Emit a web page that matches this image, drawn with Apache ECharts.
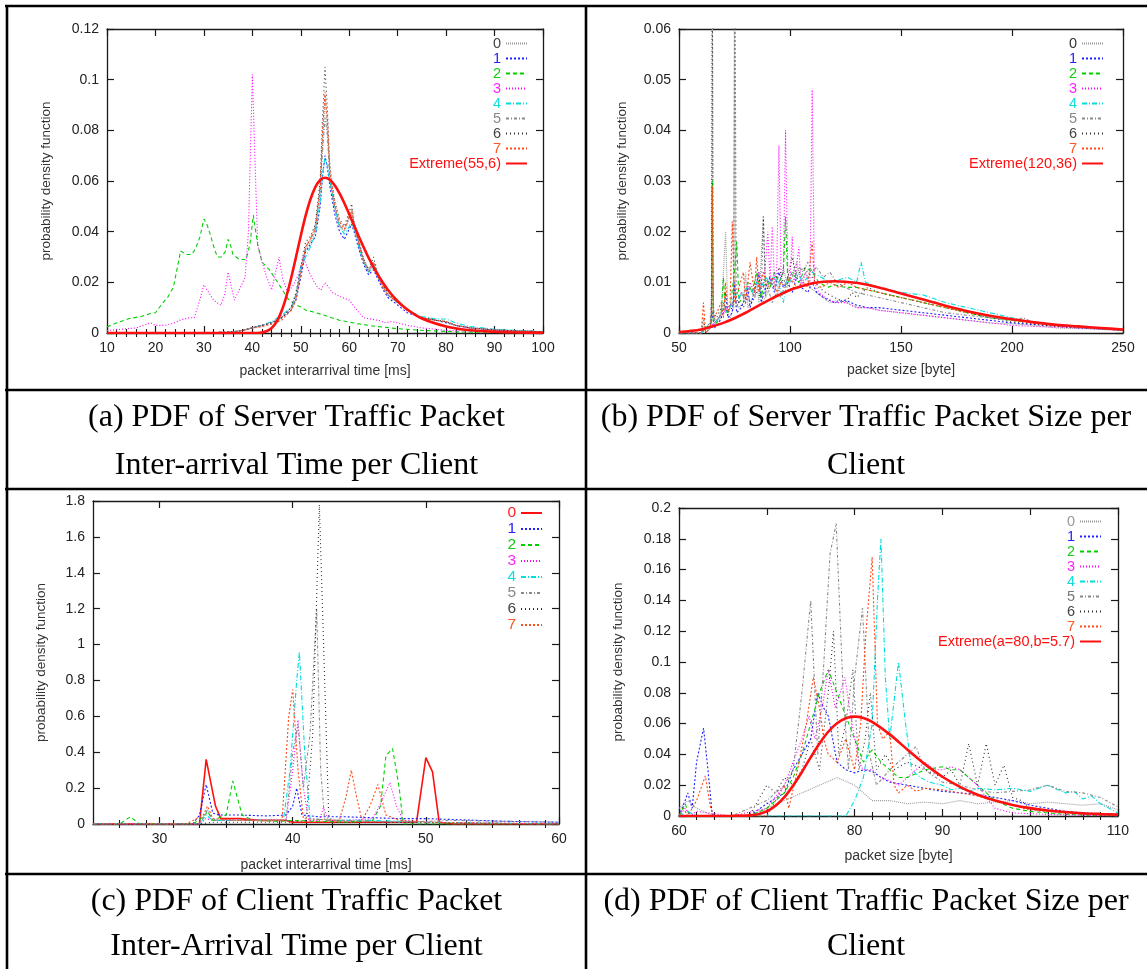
<!DOCTYPE html>
<html><head><meta charset="utf-8">
<script src="https://cdn.jsdelivr.net/npm/echarts@6/dist/echarts.min.js"></script>
<style>html,body{margin:0;padding:0;background:#fff}#c{width:1147px;height:969px}</style>
</head><body><div id="c"></div>
<script>
// ---------------- DATA ----------------
// (a) server inter-arrival time [ms]
const xA = [10,20,30,36,38,40,42,44,46,48,49,50,51,52,53,54,54.5,55,55.5,56,57,58,59,60,60.5,61,62,63,64,65,66,67,68,70,72,75,78,80,82,85,90,95,100];
const a0 = [0,0,0,0.0005,0.001,0.002,0.003,0.004,0.006,0.009,0.014,0.024,0.033,0.036,0.040,0.055,0.075,0.093,0.080,0.062,0.050,0.043,0.040,0.045,0.047,0.042,0.035,0.028,0.024,0.027,0.022,0.018,0.015,0.012,0.009,0.006,0.005,0.0045,0.003,0.002,0.0012,0.0008,0.0005];
const a1 = [0,0,0,0.0004,0.001,0.002,0.003,0.004,0.006,0.009,0.013,0.022,0.032,0.035,0.038,0.050,0.062,0.070,0.065,0.058,0.047,0.040,0.037,0.041,0.043,0.040,0.033,0.027,0.023,0.025,0.021,0.017,0.014,0.011,0.008,0.006,0.005,0.004,0.003,0.002,0.0012,0.0008,0.0005];
const a4 = [0,0,0,0.0005,0.001,0.002,0.003,0.0045,0.007,0.010,0.015,0.026,0.030,0.034,0.039,0.052,0.063,0.069,0.066,0.060,0.050,0.042,0.039,0.042,0.044,0.041,0.034,0.028,0.024,0.026,0.022,0.018,0.015,0.012,0.009,0.0065,0.0055,0.0055,0.004,0.0025,0.0015,0.001,0.0006];
const a5 = [0,0,0,0.0005,0.001,0.002,0.003,0.004,0.006,0.010,0.015,0.025,0.034,0.037,0.042,0.058,0.072,0.085,0.078,0.060,0.049,0.042,0.041,0.046,0.048,0.043,0.036,0.029,0.025,0.028,0.023,0.019,0.015,0.012,0.009,0.006,0.005,0.0045,0.003,0.002,0.0012,0.0008,0.0005];
const a6 = [0,0,0,0.0005,0.001,0.002,0.003,0.004,0.006,0.010,0.016,0.026,0.036,0.038,0.043,0.060,0.085,0.105,0.088,0.066,0.052,0.045,0.042,0.048,0.051,0.044,0.036,0.029,0.025,0.030,0.023,0.019,0.016,0.012,0.009,0.006,0.005,0.0045,0.003,0.002,0.0012,0.0008,0.0005];
const a7 = [0,0,0,0.0004,0.001,0.002,0.0025,0.0035,0.005,0.009,0.013,0.023,0.034,0.037,0.041,0.057,0.080,0.095,0.084,0.064,0.051,0.044,0.041,0.046,0.049,0.043,0.035,0.028,0.024,0.028,0.022,0.018,0.015,0.012,0.009,0.006,0.005,0.0045,0.003,0.002,0.0012,0.0008,0.0005];
const a2 = [[10,0.0024],[12,0.004],[14.6,0.0057],[17,0.0065],[19,0.0077],[20,0.008],[21.4,0.0116],[22.5,0.014],[23.7,0.018],[25.2,0.0324],[26.3,0.031],[27.5,0.031],[28.3,0.0334],[29.2,0.038],[30,0.045],[30.6,0.043],[31.3,0.039],[32.2,0.033],[32.8,0.030],[33.6,0.030],[34.4,0.032],[35,0.037],[35.6,0.034],[36,0.031],[37.3,0.029],[38.7,0.029],[39.5,0.035],[40.2,0.0465],[40.7,0.040],[41.1,0.035],[42,0.028],[43.5,0.025],[45.4,0.0195],[47.3,0.0136],[48.8,0.0113],[50,0.0103],[51.1,0.009],[52.6,0.0083],[54.9,0.007],[58,0.005],[61.7,0.0037],[65.5,0.0026],[70,0.0017],[75.3,0.001],[83,0.0004],[90,0.0002],[100,0]];
const a3 = [[10,0.001],[13,0.0015],[16,0.002],[19,0.004],[20,0.003],[22,0.003],[24,0.004],[25,0.005],[26,0.0055],[27,0.006],[28,0.006],[29,0.012],[30,0.019],[31,0.016],[32,0.013],[33.5,0.011],[34.3,0.015],[35,0.024],[35.7,0.018],[36.3,0.013],[37.3,0.017],[38.5,0.022],[39.2,0.04],[40,0.102],[40.6,0.065],[41.1,0.035],[42,0.028],[43,0.022],[44,0.017],[44.8,0.024],[45.5,0.030],[46.3,0.021],[47.3,0.016],[48.5,0.019],[49.5,0.023],[50.5,0.030],[51.5,0.025],[52.5,0.021],[53.5,0.018],[54.2,0.017],[55,0.020],[55.8,0.018],[56.5,0.016],[57.5,0.015],[58.5,0.014],[60,0.013],[60.8,0.011],[62,0.008],[63,0.006],[64.5,0.0055],[66,0.005],[67.5,0.004],[68.5,0.0045],[70,0.004],[72,0.003],[75,0.002],[78,0.0015],[80,0.001],[85,0.0008],[90,0.0005],[100,0]];
const aExt = [[10,0],[38,0],[41,0],[42,0.0002],[43,0.0008],[44,0.002],[45,0.0044],[46,0.0085],[47,0.0143],[48,0.0216],[49,0.0299],[50,0.0384],[51,0.0463],[52,0.0528],[53,0.0576],[54,0.0604],[55,0.0613],[56,0.0605],[57,0.0583],[58,0.0551],[59,0.0512],[60,0.0469],[62,0.038],[64,0.0297],[66,0.0227],[68,0.017],[70,0.0126],[72,0.0093],[75,0.0057],[80,0.0026],[85,0.0011],[90,0.0005],[95,0.0002],[100,0.0001]];

// (b) server packet size [byte]
const b0 = [[50,0],[60,0],[61,0.002],[62,0],[64,0.001],[64.6,0.003],[65,0.07],[65.4,0.004],[67,0.002],[69,0.003],[70,0.012],[71,0.02],[72,0.004],[73,0.003],[74.6,0.005],[75,0.075],[75.4,0.006],[77,0.005],[79,0.006],[80,0.012],[81,0.005],[83,0.007],[85,0.01],[86,0.006],[88,0.023],[89,0.007],[91,0.009],[93,0.012],[95,0.008],[97,0.013],[99,0.009],[101,0.011],[103,0.014],[105,0.01],[107,0.012],[109,0.009],[112,0.008],[115,0.007],[118,0.006],[122,0.0065],[126,0.006],[130,0.005],[135,0.005],[140,0.0045],[150,0.004],[160,0.0035],[170,0.003],[180,0.0025],[190,0.002],[200,0.0018],[210,0.0015],[220,0.001],[235,0.0008],[250,0.0005]];
const b1 = [[50,0],[60,0],[62,0.001],[64,0.001],[65,0.004],[66,0.001],[68,0.002],[70,0.004],[71,0.008],[72,0.003],[74,0.004],[75,0.01],[76,0.004],[78,0.005],[80,0.007],[81,0.009],[82,0.005],[84,0.008],[86,0.012],[87,0.006],[89,0.009],[91,0.011],[93,0.008],[95,0.012],[97,0.009],[99,0.01],[101,0.008],[103,0.011],[105,0.009],[108,0.008],[110,0.01],[112,0.008],[115,0.007],[120,0.006],[125,0.0065],[130,0.0055],[135,0.005],[140,0.005],[150,0.0045],[160,0.004],[170,0.0035],[180,0.003],[190,0.0025],[200,0.002],[215,0.0015],[230,0.001],[250,0.0006]];
const b2 = [[50,0],[60,0],[62,0.001],[64.6,0.002],[65,0.03],[65.4,0.002],[67,0.002],[69,0.004],[70,0.011],[71,0.004],[73,0.005],[75,0.012],[76,0.018],[77,0.006],[79,0.007],[81,0.01],[83,0.008],[85,0.012],[87,0.007],[89,0.011],[91,0.009],[93,0.012],[95,0.01],[97,0.012],[98,0.023],[99,0.01],[101,0.012],[104,0.01],[107,0.013],[110,0.012],[113,0.01],[117,0.009],[120,0.0095],[125,0.009],[130,0.009],[135,0.0085],[140,0.008],[145,0.0075],[150,0.007],[160,0.006],[170,0.005],[180,0.004],[190,0.003],[200,0.0025],[210,0.002],[220,0.0015],[235,0.001],[250,0.0005]];
const b3 = [[50,0],[60,0],[63,0.001],[66,0.002],[68,0.003],[70,0.004],[72,0.005],[74,0.006],[76,0.006],[78,0.008],[80,0.007],[82,0.01],[84,0.008],[86,0.012],[88,0.009],[89,0.014],[90,0.02],[91,0.01],[92,0.021],[93,0.01],[94,0.012],[95,0.037],[96,0.011],[97,0.012],[98,0.04],[99,0.012],[100,0.01],[101,0.019],[102,0.01],[104,0.017],[105,0.009],[107,0.012],[109,0.01],[110,0.048],[111,0.01],[113,0.008],[116,0.007],[120,0.006],[125,0.006],[130,0.005],[135,0.005],[140,0.0045],[150,0.004],[160,0.0035],[170,0.003],[180,0.0025],[190,0.002],[200,0.0015],[215,0.0012],[230,0.001],[250,0.0005]];
const b4 = [[50,0],[60,0],[63,0.001],[66,0.002],[68,0.003],[70,0.005],[72,0.004],[74,0.006],[75,0.008],[77,0.007],[79,0.008],[81,0.009],[83,0.008],[85,0.01],[87,0.009],[89,0.011],[91,0.01],[93,0.011],[95,0.01],[97,0.006],[99,0.011],[101,0.01],[103,0.012],[106,0.01],[110,0.012],[114,0.011],[118,0.01],[122,0.0105],[126,0.011],[130,0.01],[132,0.014],[134,0.01],[140,0.009],[150,0.008],[160,0.0075],[170,0.006],[180,0.005],[190,0.004],[200,0.003],[210,0.002],[220,0.0015],[235,0.001],[250,0.0006]];
const b5 = [[50,0],[60,0],[62,0.001],[64,0.002],[65,0.01],[66,0.002],[68,0.003],[70,0.005],[72,0.004],[74,0.006],[76,0.005],[78,0.008],[80,0.006],[82,0.009],[84,0.007],[86,0.01],[88,0.006],[90,0.009],[92,0.006],[94,0.008],[96,0.007],[98,0.01],[100,0.012],[102,0.011],[104,0.013],[106,0.012],[108,0.014],[110,0.012],[112,0.013],[115,0.011],[118,0.012],[121,0.01],[125,0.009],[130,0.008],[135,0.0075],[140,0.007],[150,0.006],[160,0.005],[170,0.004],[180,0.0035],[190,0.003],[200,0.0025],[205,0.003],[210,0.002],[220,0.0015],[235,0.001],[250,0.0007]];
const b6 = [[50,0],[60,0],[61,0.003],[62,0],[64,0.001],[64.6,0.004],[65,0.08],[65.4,0.004],[67,0.003],[69,0.005],[70,0.006],[72,0.004],[74,0.005],[74.6,0.006],[75.2,0.075],[75.8,0.006],[77,0.006],[79,0.005],[81,0.007],[83,0.006],[85,0.008],[87,0.007],[88,0.023],[89,0.008],[91,0.01],[93,0.009],[95,0.013],[97,0.01],[99,0.011],[101,0.015],[103,0.011],[106,0.013],[110,0.011],[113,0.009],[116,0.008],[120,0.007],[125,0.006],[128,0.008],[130,0.007],[135,0.009],[140,0.008],[150,0.007],[160,0.006],[170,0.005],[180,0.004],[190,0.003],[200,0.0022],[210,0.0018],[220,0.0013],[235,0.001],[250,0.0005]];
const b7 = [[50,0],[60,0],[61,0.006],[62,0],[64,0.001],[64.6,0.003],[65,0.029],[65.4,0.003],[67,0.004],[69,0.006],[70,0.003],[71,0.01],[72,0.004],[73,0.006],[74,0.022],[75,0.006],[77,0.009],[79,0.012],[80,0.006],[82,0.014],[84,0.008],[85,0.015],[86,0.008],[88,0.012],[90,0.009],[92,0.011],[94,0.008],[96,0.01],[98,0.009],[100,0.011],[103,0.009],[106,0.01],[108,0.009],[110,0.018],[111,0.01],[114,0.009],[118,0.01],[122,0.009],[126,0.01],[130,0.009],[135,0.0085],[140,0.008],[150,0.007],[160,0.006],[170,0.005],[180,0.004],[190,0.0035],[200,0.0025],[210,0.002],[220,0.0015],[235,0.001],[250,0.0006]];
const bExt = [[50,0.0002],[55,0.0004],[60,0.0007],[65,0.0013],[70,0.002],[75,0.0029],[80,0.004],[85,0.0052],[90,0.0064],[95,0.0075],[100,0.0085],[105,0.0092],[110,0.0098],[115,0.0101],[120,0.0102],[125,0.0101],[130,0.0099],[140,0.009],[150,0.0078],[160,0.0066],[170,0.0054],[180,0.0043],[190,0.0034],[200,0.0027],[210,0.0021],[220,0.0016],[230,0.0013],[240,0.001],[250,0.0007]];

// (c) client inter-arrival time [ms]
const c0 = [[25,0],[33,0],[33.5,0.36],[34.2,0.1],[34.6,0.03],[36,0.03],[37.5,0.02],[39.5,0.02],[40,0.01],[41,0.01],[44,0.01],[46,0.01],[49.3,0.01],[50,0.37],[50.5,0.29],[51,0.01],[52,0],[60,0]];
const c1 = [[25,0],[32.5,0],[33,0.05],[33.5,0.22],[34,0.06],[34.5,0.05],[36,0.05],[38,0.045],[39.5,0.05],[40,0.1],[40.3,0.2],[40.7,0.05],[42,0.04],[44,0.04],[46,0.035],[48,0.03],[50,0.03],[52,0.025],[54,0.02],[56,0.015],[58,0.012],[60,0.01]];
const c2 = [[25,0],[27,0],[27.8,0.04],[28.5,0],[32.5,0],[33.3,0.04],[33.6,0.07],[34,0.02],[35,0.05],[35.5,0.24],[36.2,0.05],[37,0.02],[39,0.015],[40,0.02],[42,0.015],[44,0.01],[46,0.02],[46.6,0.1],[47,0.38],[47.5,0.42],[48,0.2],[48.3,0],[50,0],[60,0]];
const c3 = [[25,0],[33,0],[33.5,0.03],[34,0.02],[36,0.02],[39.5,0.02],[40,0.3],[40.4,0.58],[40.8,0.2],[41.2,0.02],[42,0.02],[42.3,0.09],[42.7,0.02],[44,0.02],[46,0.03],[46.5,0.1],[47.3,0.23],[47.8,0.1],[48.3,0.02],[50,0.01],[60,0]];
const c4 = [[25,0],[33,0],[33.5,0.05],[34,0.02],[36,0.02],[39.3,0.02],[39.8,0.3],[40.3,0.8],[40.5,0.96],[40.9,0.4],[41.3,0.03],[43,0.02],[46,0.02],[50,0.01],[60,0]];
const c5 = [[25,0],[33,0],[33.6,0.08],[34,0.02],[36,0.02],[39.5,0.02],[40,0.4],[40.4,0.55],[40.8,0.2],[41.3,0.5],[41.8,1.2],[42.1,0.3],[42.4,0.02],[44,0.02],[48,0.01],[52,0.02],[56,0.015],[60,0.01]];
const c6 = [[25,0],[33,0],[34,0.01],[38,0.01],[40,0.01],[41,0.02],[41.5,0.5],[42,1.78],[42.4,0.8],[42.7,0.05],[43,0.01],[46,0.01],[60,0]];
const c7 = [[25,0],[32,0],[33.3,0.05],[33.6,0.1],[34,0.03],[36,0.02],[39.2,0.02],[39.7,0.6],[40,0.75],[40.4,0.3],[40.8,0.03],[43.5,0.02],[44,0.15],[44.4,0.3],[44.8,0.15],[45.2,0.02],[45.8,0.1],[46.4,0.22],[47,0.05],[48,0.02],[50,0.01],[60,0]];

// (d) client packet size [byte]
const d0 = [[60,0.005],[61,0.01],[62,0.005],[64,0],[68,0],[70,0.005],[72,0.01],[74,0.015],[76,0.02],[78,0.025],[80,0.02],[81,0.015],[82,0.01],[84,0.01],[86,0.008],[88,0.009],[90,0.008],[92,0.01],[94,0.008],[96,0.009],[98,0.01],[100,0.008],[102,0.009],[104,0.008],[106,0.007],[108,0.008],[110,0.004]];
const d1 = [[60,0],[60.7,0.01],[61,0.015],[61.5,0.005],[62,0.035],[62.8,0.057],[63.3,0.03],[63.8,0],[68,0],[70,0.008],[72,0.015],[73,0.03],[74,0.04],[75,0.05],[75.8,0.08],[76.5,0.07],[77,0.065],[77.5,0.05],[78,0.035],[79,0.03],[80,0.028],[81,0.03],[82,0.029],[83,0.025],[84,0.022],[86,0.02],[88,0.018],[90,0.016],[92,0.015],[94,0.014],[96,0.012],[98,0.01],[100,0.007],[102,0.005],[104,0.003],[106,0.002],[110,0.001]];
const d2 = [[60,0],[60.7,0.008],[61.2,0],[68,0],[70,0.005],[72,0.015],[73,0.025],[74,0.04],[75,0.06],[76,0.08],[77,0.095],[78,0.08],[79,0.065],[80,0.05],[81,0.035],[82,0.043],[83,0.035],[84,0.03],[85,0.025],[86,0.025],[88,0.03],[90,0.032],[91,0.03],[92,0.03],[93,0.025],[94,0.02],[95,0.015],[96,0.01],[98,0.005],[100,0.003],[104,0.001],[110,0]];
const d3 = [[60,0],[60.7,0.005],[61.3,0],[62,0.003],[66,0],[70,0.005],[72,0.02],[73,0.035],[74,0.05],[74.8,0.065],[75.5,0.05],[76.3,0.07],[77,0.095],[77.8,0.07],[78.9,0.09],[79.7,0.06],[80.5,0.035],[81,0.03],[82,0.03],[83,0.025],[84,0.023],[85,0.02],[86,0.025],[87,0.03],[88,0.035],[89,0.03],[90,0.03],[91,0.032],[92,0.03],[93,0.025],[94,0.02],[95,0.012],[96,0.005],[98,0.002],[102,0.001],[110,0]];
const d4 = [[60,0],[61,0.003],[62,0],[70,0],[79,0],[80,0.01],[81,0.025],[82,0.06],[82.6,0.14],[83,0.18],[83.5,0.09],[84,0.05],[85,0.1],[85.8,0.06],[86.5,0.03],[87.5,0.025],[88.5,0.022],[90,0.02],[91,0.017],[92,0.018],[93,0.016],[94,0.018],[96,0.017],[98,0.018],[100,0.016],[102,0.02],[104,0.015],[105,0.016],[106,0.011],[107,0.013],[108,0.008],[110,0.002]];
const d5 = [[60,0],[66,0],[68,0.005],[70,0.01],[72,0.02],[73,0.03],[74,0.08],[75,0.14],[75.8,0.04],[76.5,0.1],[77.2,0.17],[77.9,0.19],[78.7,0.08],[79.3,0.03],[80,0.09],[80.9,0.135],[81.7,0.04],[82.5,0.02],[84,0.03],[86,0.04],[87,0.045],[88,0.03],[90,0.022],[92,0.02],[94,0.017],[96,0.015],[98,0.016],[100,0.017],[102,0.02],[104,0.016],[106,0.015],[108,0.012],[110,0.006]];
const d6 = [[60,0],[68,0],[69,0.01],[70,0.02],[71,0.015],[72,0.025],[73,0.02],[74,0.03],[75,0.05],[76,0.03],[77,0.08],[77.6,0.12],[78.2,0.04],[79,0.06],[79.8,0.095],[80.5,0.03],[81.2,0.05],[81.8,0.08],[82.5,0.03],[83.5,0.04],[84.5,0.03],[86,0.035],[88,0.03],[90,0.025],[91,0.03],[92,0.02],[93,0.047],[94,0.02],[95,0.047],[96,0.02],[97,0.033],[98,0.012],[99,0.01],[100,0.005],[103,0.003],[106,0.001],[110,0]];
const d7 = [[60,0],[60.5,0.005],[61,0],[62,0.01],[63,0.026],[63.6,0.005],[64,0],[70,0],[71,0.01],[72,0.02],[72.5,0.005],[73.5,0.03],[74.5,0.06],[75.3,0.09],[76,0.07],[76.5,0.05],[77,0.04],[78,0.035],[79,0.05],[80,0.03],[80.7,0.06],[81.3,0.12],[82,0.168],[82.6,0.06],[83.2,0.05],[84,0.055],[84.5,0.02],[85,0.015],[86,0.02],[87,0.016],[88,0.018],[90,0.017],[92,0.015],[94,0.013],[96,0.01],[98,0.007],[100,0.004],[104,0.002],[110,0]];
const dExt = [[60,0],[64,0],[66,0.0001],[68,0.0004],[69,0.0012],[70,0.0031],[71,0.0067],[72,0.0122],[73,0.0198],[74,0.0286],[75,0.0381],[76,0.0471],[77,0.0547],[78,0.0602],[79,0.0635],[80,0.0645],[81,0.0636],[82,0.0611],[84,0.053],[86,0.0432],[88,0.0337],[90,0.0255],[92,0.0189],[94,0.0138],[96,0.01],[98,0.0072],[100,0.0051],[102,0.0036],[104,0.0026],[106,0.0018],[108,0.0013],[110,0.0009]];

// tick labels
const xTicksA = [10,20,30,40,50,60,70,80,90,100];
const xTicksB = [50,100,150,200,250];
const xTicksC = [30,40,50,60];
const xTicksD = [60,70,80,90,100,110];

// legend labels
const legLabels = ['0','1','2','3','4','5','6','7'];
const extLabelA = 'Extreme(55,6)';
const extLabelB = 'Extreme(120,36)';
const extLabelD = 'Extreme(a=80,b=5.7)';

// ---------------- STYLE ----------------
const SANS = '"Liberation Sans", Arial, Helvetica, sans-serif';
const SERIF = '"Liberation Serif", "Times New Roman", serif';
const ST = [
  {c:'#9a9a9a', t:[1,1]},
  {c:'#2020ff', t:[2,2]},
  {c:'#00d000', t:[4,3]},
  {c:'#ff00ff', t:[1,2]},
  {c:'#00dede', t:[5,2,1,2]},
  {c:'#8a8a8a', t:[3,2,1,2]},
  {c:'#303030', t:[1,3]},
  {c:'#ff4a1a', t:[2,2]}
];
const RED = '#ff1010';

const pairs = (xs, ys) => xs.map((x, i) => [x, ys[i]]);

const plots = [
  { id:'a', grid:{left:107, top:29, width:436, height:304}, xMin:10, xMax:100, xTicks:xTicksA, minorStep:2,
    yMax:0.12, yInt:0.02, xName:'packet interarrival time [ms]', xGap:31, yGap:54,
    leg:{right:619, top:36, lh:14.5, fs:14.5},
    txt:['#444','#2222ff','#11cc11','#ff22ff','#11dddd','#888','#444','#ff5522'],
    data:[pairs(xA,a0),pairs(xA,a1),a2,a3,pairs(xA,a4),pairs(xA,a5),pairs(xA,a6),pairs(xA,a7)],
    ext:{label:extLabelA, data:aExt} },
  { id:'b', grid:{left:679, top:29, width:444, height:304}, xMin:50, xMax:250, xTicks:xTicksB, minorStep:0,
    yMax:0.06, yInt:0.01, xName:'packet size [byte]', xGap:30, yGap:50,
    leg:{right:43, top:36, lh:14.5, fs:14.5},
    txt:['#333','#2222ff','#11cc11','#ff22ff','#11dddd','#888','#444','#ff5522'],
    data:[b0,b1,b2,b3,b4,b5,b6,b7],
    ext:{label:extLabelB, data:bExt} },
  { id:'c', grid:{left:93, top:501, width:466, height:323}, xMin:25, xMax:60, xTicks:xTicksC, minorStep:2,
    yMax:1.8, yInt:0.2, xName:'packet interarrival time [ms]', xGap:34, yGap:45,
    leg:{right:604, top:505, lh:15.7, fs:15.5},
    txt:['#ff2020','#2222ff','#11cc11','#ff22ff','#11dddd','#888','#444','#ff5522'],
    data:[c0,c1,c2,c3,c4,c5,c6,c7], solid0:true,
    ext:null },
  { id:'d', grid:{left:679, top:508, width:439, height:308}, xMin:60, xMax:110, xTicks:xTicksD, minorStep:2,
    yMax:0.2, yInt:0.02, xName:'packet size [byte]', xGap:33, yGap:54,
    leg:{right:45, top:514, lh:14.75, fs:14.5},
    txt:['#999','#2222ff','#11cc11','#ff22ff','#11dddd','#777','#444','#ff5522'],
    data:[d0,d1,d2,d3,d4,d5,d6,d7],
    ext:{label:extLabelD, data:dExt} }
];

// ---------------- BUILD ----------------
const grids = [], xAxes = [], yAxes = [], series = [], legends = [];
const AX = '#1a1a1a';
plots.forEach((p, gi) => {
  grids.push(Object.assign({containLabel:false, outerBoundsMode:'none'}, p.grid));
  const minor = [];
  if (p.minorStep) {
    for (let v = p.xMin; v <= p.xMax + 1e-9; v += p.minorStep) {
      if (!p.xTicks.includes(v) && v !== p.xMin && v !== p.xMax) minor.push(v);
    }
  }
  const xBase = {type:'value', gridIndex:gi, min:p.xMin, max:p.xMax, splitLine:{show:false},
    axisLine:{show:true, onZero:false, lineStyle:{color:AX, width:1.3}}};
  const xMainIdx = xAxes.length;
  xAxes.push(Object.assign({}, xBase, {position:'bottom',
    axisTick:{show:true, inside:true, length:7, customValues:p.xTicks, lineStyle:{color:AX, width:1.2}},
    axisLabel:{show:true, customValues:p.xTicks, fontSize:14, color:'#222', fontFamily:SANS, margin:8},
    name:p.xName, nameLocation:'middle', nameGap:p.xGap,
    nameTextStyle:{fontSize:14, color:'#333', fontFamily:SANS}}));
  xAxes.push(Object.assign({}, xBase, {position:'top',
    axisTick:{show:true, inside:true, length:7, customValues:p.xTicks, lineStyle:{color:AX, width:1.2}},
    axisLabel:{show:false}}));
  if (minor.length) {
    ['bottom','top'].forEach(pos => xAxes.push(Object.assign({}, xBase, {position:pos,
      axisLine:{show:false},
      axisTick:{show:true, inside:true, length:4, customValues:minor, lineStyle:{color:AX, width:1.1}},
      axisLabel:{show:false}})));
  }
  const yBase = {type:'value', gridIndex:gi, min:0, max:p.yMax, interval:p.yInt, splitLine:{show:false},
    axisLine:{show:true, onZero:false, lineStyle:{color:AX, width:1.3}},
    axisTick:{show:true, inside:true, length:7, lineStyle:{color:AX, width:1.2}}};
  const yMainIdx = yAxes.length;
  yAxes.push(Object.assign({}, yBase, {position:'left',
    axisLabel:{show:true, fontSize:14, color:'#222', fontFamily:SANS, margin:8},
    name:'probability density function', nameLocation:'middle', nameGap:p.yGap, nameRotate:90,
    nameTextStyle:{fontSize:13.5, color:'#333', fontFamily:SANS}}));
  yAxes.push(Object.assign({}, yBase, {position:'right', axisLabel:{show:false}}));

  const legData = [];
  p.data.forEach((d, k) => {
    const name = p.id + legLabels[k];
    const solid = (k === 0 && p.solid0);
    const color = solid ? RED : ST[k].c;
    series.push({type:'line', name, xAxisIndex:xMainIdx, yAxisIndex:yMainIdx, data:d,
      symbol:'none', showSymbol:false, animation:false, silent:true, z:2 + k * 0.01,
      lineStyle:{color, width: solid ? 1.6 : 1.1, type: solid ? 'solid' : ST[k].t},
      itemStyle:{color, opacity:0}});
    legData.push({name, textStyle:{color:p.txt[k]}});
  });
  if (p.ext) {
    const name = p.id + ' ' + p.ext.label;
    series.push({type:'line', name, xAxisIndex:xMainIdx, yAxisIndex:yMainIdx, data:p.ext.data,
      symbol:'none', showSymbol:false, smooth:0.3, animation:false, silent:true, z:3,
      lineStyle:{color:RED, width:2.6, type:'solid'}, itemStyle:{color:RED, opacity:0}});
    legData.push({name, textStyle:{color:RED}});
  }
  legends.push({orient:'vertical', right:p.leg.right, top:p.leg.top, align:'right', padding:0,
    itemGap:0, itemWidth:21, itemHeight:8, selectedMode:false,
    itemStyle:{opacity:0},
    textStyle:{fontFamily:SANS, fontSize:p.leg.fs, lineHeight:p.leg.lh},
    formatter: n => n.slice(1).trim(), data:legData});
});

// table frame and captions
const LW = 2.6;
const hline = (y) => ({type:'line', shape:{x1:5, y1:y, x2:1147, y2:y}, style:{stroke:'#000', lineWidth:LW}, silent:true});
const vline = (x) => ({type:'line', shape:{x1:x, y1:5, x2:x, y2:969}, style:{stroke:'#000', lineWidth:LW}, silent:true});
const capFont = '32px ' + SERIF;
const cap = (x, y, t) => ({type:'text', x, y, silent:true,
  style:{text:t, font:capFont, fill:'#000', align:'center', verticalAlign:'middle'}});
const graphic = [
  hline(6), hline(390), hline(489), hline(874),
  vline(7), vline(586),
  cap(296.5, 418, '(a) PDF of Server Traffic Packet'),
  cap(296.5, 466, 'Inter-arrival Time per Client'),
  cap(866, 418, '(b) PDF of Server Traffic Packet Size per'),
  cap(866, 466, 'Client'),
  cap(296.5, 902, '(c) PDF of Client Traffic Packet'),
  cap(296.5, 947, 'Inter-Arrival Time per Client'),
  cap(866, 902, '(d) PDF of Client Traffic Packet Size per'),
  cap(866, 947, 'Client')
];

const chart = echarts.init(document.getElementById('c'), null, {renderer:'canvas'});
chart.setOption({
  backgroundColor:'#fff', animation:false,
  grid:grids, xAxis:xAxes, yAxis:yAxes, series, legend:legends, graphic
});
</script></body></html>
